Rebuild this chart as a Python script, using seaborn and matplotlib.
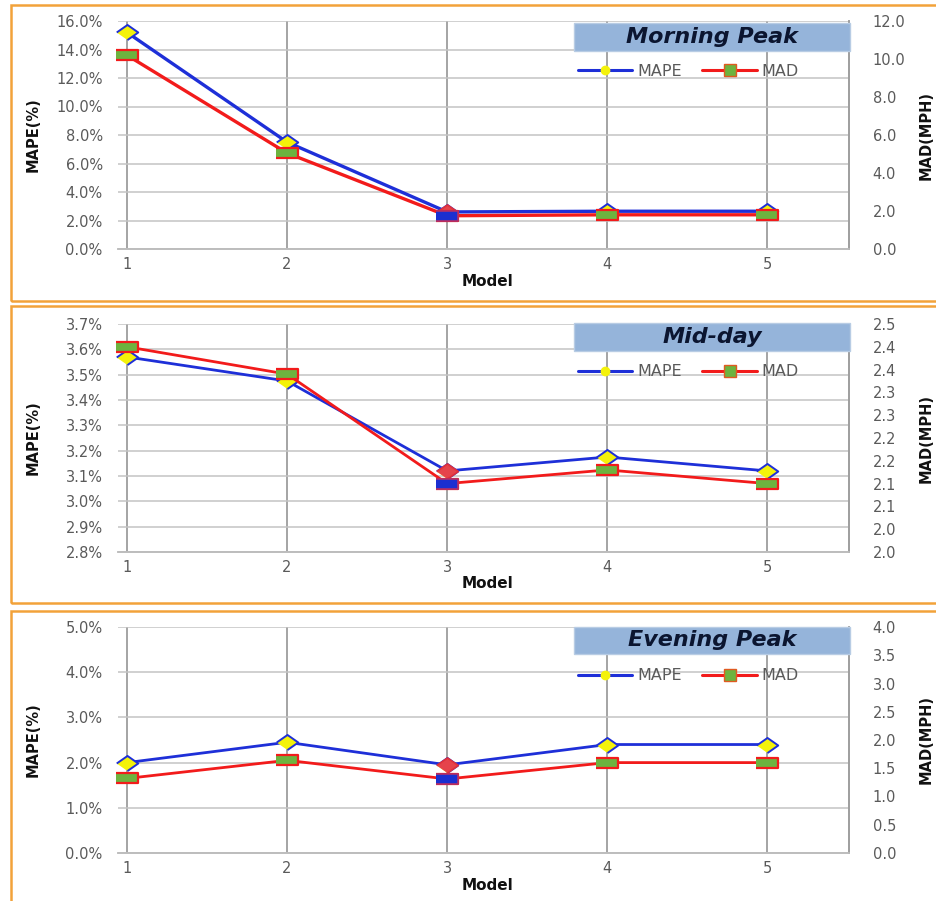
import matplotlib
matplotlib.use("Agg")
import matplotlib.pyplot as plt
import seaborn as sns
import pandas as pd
from matplotlib.patches import Rectangle
from matplotlib.lines import Line2D

# ---- data -------------------------------------------------------------
models = [1, 2, 3, 4, 5]

period_titles = ["Morning Peak", "Mid-day", "Evening Peak"]

mape_morning = [15.2, 7.5, 2.6, 2.65, 2.65]      # MAPE in %
mad_morning = [10.2, 5.05, 1.75, 1.8, 1.8]       # MAD in mph
mape_midday = [3.57, 3.475, 3.12, 3.175, 3.12]
mad_midday = [2.45, 2.39, 2.15, 2.18, 2.15]
mape_evening = [2.0, 2.45, 1.95, 2.4, 2.4]
mad_evening = [1.32, 1.64, 1.31, 1.6, 1.6]

mape_ticks_morning = [0, 2, 4, 6, 8, 10, 12, 14, 16]
mad_ticks_morning = [0, 2, 4, 6, 8, 10, 12]
mad_labels_morning = ["0.0", "2.0", "4.0", "6.0", "8.0", "10.0", "12.0"]

mape_ticks_midday = [2.8, 2.9, 3.0, 3.1, 3.2, 3.3, 3.4, 3.5, 3.6, 3.7]
mad_ticks_midday = [2.0, 2.05, 2.1, 2.15, 2.2, 2.25, 2.3, 2.35, 2.4, 2.45, 2.5]
mad_labels_midday = ["2.0", "2.0", "2.1", "2.1", "2.2", "2.2",
                     "2.3", "2.3", "2.4", "2.4", "2.5"]

mape_ticks_evening = [0, 1, 2, 3, 4, 5]
mad_ticks_evening = [0, 0.5, 1.0, 1.5, 2.0, 2.5, 3.0, 3.5, 4.0]
mad_labels_evening = ["0.0", "0.5", "1.0", "1.5", "2.0", "2.5", "3.0", "3.5", "4.0"]

highlight_model = 3

# ---- style -------------------------------------------------------------
sns.set_theme(style="white")
plt.rcParams["font.family"] = ["DejaVu Sans"]

W, H = 936, 901
fig = plt.figure(figsize=(W / 100, H / 100), dpi=100)
fig.patch.set_facecolor("white")


def fx(px):
    return px / W


def fy(py):
    return 1 - py / H


BLUE = "#1E2FD8"
RED = "#F21B1B"
YELLOW = "#F4F20A"
GREEN = "#6DB33F"
ORANGE = "#F2A23A"
TICK_GREY = "#5A5A5A"
BOX_BLUE = "#95B4DA"

diamond = [(-1, 0), (0, 0.7), (1, 0), (0, -0.7)]
rect = [(-1, -0.45), (1, -0.45), (1, 0.45), (-1, 0.45)]

panels = [
    dict(title=title, mape=mape, mad=mad, mt=mt, adt=adt, adl=adl,
         top=top, bottom=bottom, frame=frame, boxy=boxy, legy=legy, modely=my)
    for title, mape, mad, mt, adt, adl, top, bottom, frame, boxy, legy, my in [
        (period_titles[0], mape_morning, mad_morning, mape_ticks_morning,
         mad_ticks_morning, mad_labels_morning, 21, 249, (5, 301), (23, 51), 71, 281),
        (period_titles[1], mape_midday, mad_midday, mape_ticks_midday,
         mad_ticks_midday, mad_labels_midday, 324, 552, (306, 603), (323, 351), 372, 583),
        (period_titles[2], mape_evening, mad_evening, mape_ticks_evening,
         mad_ticks_evening, mad_labels_evening, 627, 853, (611, 910), (627, 654), 676, 885),
    ]
]

LEFT, RIGHT = 118, 849
MK = 15.5

for i, p in enumerate(panels):
    # orange panel frame
    f_top, f_bot = p["frame"]
    fig.add_artist(Rectangle((fx(11), fy(f_bot)), fx(1000), (f_bot - f_top) / H,
                             transform=fig.transFigure, fill=False,
                             edgecolor=ORANGE, linewidth=1.8, zorder=0))

    ax = fig.add_axes([fx(LEFT), fy(p["bottom"]), fx(RIGHT - LEFT),
                       (p["bottom"] - p["top"]) / H])
    ax2 = ax.twinx()

    df = pd.DataFrame({"Model": models, "MAPE": p["mape"], "MAD": p["mad"]})
    lw = 2.4 if i == 0 else 2.0

    sns.lineplot(data=df, x="Model", y="MAPE", ax=ax, color=BLUE, linewidth=lw,
                 marker=diamond, markersize=MK, markerfacecolor=YELLOW,
                 markeredgecolor=BLUE, markeredgewidth=1.4, zorder=3, clip_on=False)
    sns.lineplot(data=df, x="Model", y="MAD", ax=ax2, color=RED, linewidth=lw,
                 marker=rect, markersize=MK, markerfacecolor=GREEN,
                 markeredgecolor=RED, markeredgewidth=1.6, zorder=3, clip_on=False)

    # Model 3 points drawn in the swapped colours
    hi = df[df["Model"] == highlight_model]
    ax.plot(hi["Model"], hi["MAPE"], linestyle="none", marker=diamond,
            markersize=MK, markerfacecolor="#E5434B", markeredgecolor="#E0303A",
            markeredgewidth=1.2, zorder=4)
    ax2.plot(hi["Model"], hi["MAD"], linestyle="none", marker=rect,
             markersize=MK, markerfacecolor="#1B2FD0", markeredgecolor="#B0306A",
             markeredgewidth=1.2, zorder=4)

    # axes limits and ticks
    mt = p["mt"]
    ax.set_xlim(0.944, 5.51)
    ax.set_ylim(mt[0], mt[-1])
    ax.set_xticks(models)
    ax.set_xticklabels([str(m) for m in models])
    ax.set_yticks(mt)
    ax.set_yticklabels([f"{v:.1f}%" for v in mt])
    ax2.set_ylim(p["adt"][0], p["adt"][-1])
    ax2.set_yticks(p["adt"])
    ax2.set_yticklabels(p["adl"])

    ax.set_xlabel("")
    ax.set_ylabel("")
    ax2.set_ylabel("")

    ax.tick_params(axis="y", length=0, pad=11, labelsize=10.5, labelcolor=TICK_GREY)
    ax.tick_params(axis="x", length=0, pad=6, labelsize=10.5, labelcolor=TICK_GREY)
    ax2.tick_params(axis="y", length=0, pad=17, labelsize=10.5, labelcolor=TICK_GREY)

    ax.grid(True, axis="y", color="#C4C4C4", linewidth=1.1)
    ax.grid(True, axis="x", color="#8C8C8C", linewidth=1.1)
    ax.set_axisbelow(True)
    ax2.grid(False)

    for a in (ax, ax2):
        for side in ("top", "left"):
            a.spines[side].set_visible(False)
        a.spines["bottom"].set_color("#BDBDBD")
        a.spines["right"].set_color("#9E9E9E")
        a.spines["bottom"].set_linewidth(1.2)
        a.spines["right"].set_linewidth(1.2)
        a.patch.set_visible(False)

    # title box
    by0, by1 = p["boxy"]
    fig.add_artist(Rectangle((fx(574), fy(by1)), fx(850 - 574), (by1 - by0) / H,
                             transform=fig.transFigure, facecolor=BOX_BLUE,
                             edgecolor="#B8CCE4", linewidth=1, zorder=5))
    fig.text(fx(712), fy((by0 + by1) / 2), p["title"], ha="center", va="center",
             fontsize=16, fontweight="bold", fontstyle="italic",
             color="#0B1530", zorder=6)

    # legend
    handles = [
        Line2D([], [], color=BLUE, linewidth=2.2, marker="o", markersize=6,
               markerfacecolor=YELLOW, markeredgecolor=YELLOW),
        Line2D([], [], color=RED, linewidth=2.2, marker="s", markersize=8,
               markerfacecolor=GREEN, markeredgecolor="#E05A20"),
    ]
    leg = ax2.legend(handles, ["MAPE", "MAD"], loc="center left",
                     bbox_to_anchor=(fx(578), fy(p["legy"])),
                     bbox_transform=fig.transFigure, ncol=2, frameon=False,
                     handlelength=3.4, handletextpad=0.3, columnspacing=1.3,
                     borderpad=0, borderaxespad=0, fontsize=11.5)
    for t in leg.get_texts():
        t.set_color(TICK_GREY)

    # axis titles
    mid = (p["top"] + p["bottom"]) / 2
    fig.text(fx(33), fy(mid), "MAPE(%)", rotation=90, ha="center", va="center",
             fontsize=10.5, fontweight="bold",
             family=["Liberation Sans Narrow", "DejaVu Sans"], color="#111111")
    fig.text(fx(926), fy(mid), "MAD(MPH)", rotation=90, ha="center", va="center",
             fontsize=10.5, fontweight="bold",
             family=["Liberation Sans Narrow", "DejaVu Sans"], color="#111111")
    fig.text(fx(487), fy(p["modely"]), "Model", ha="center", va="center",
             fontsize=11, fontweight="bold", color="#111111")

fig.savefig("out.png", dpi=100, facecolor="white")
